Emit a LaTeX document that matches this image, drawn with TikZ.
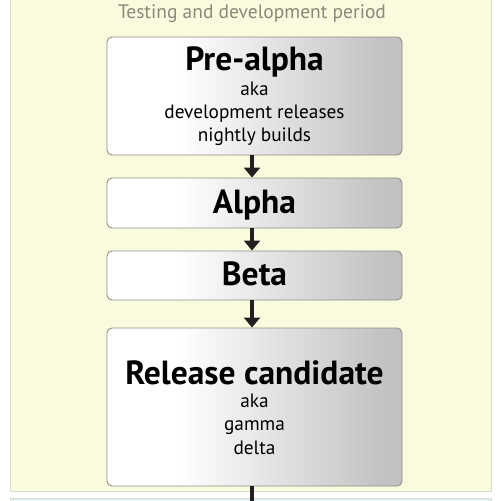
\documentclass[tikz,border=0pt]{standalone}
\usepackage{fontspec}
\setmainfont{PT Sans}
\usetikzlibrary{arrows.meta}
\definecolor{panelyellow}{HTML}{FAFADF}
\definecolor{panelline}{HTML}{DADACB}
\definecolor{panelcyan}{HTML}{E2F3F7}
\definecolor{boxline}{HTML}{8E8E86}
\definecolor{headgray}{HTML}{8A8A7C}
\definecolor{arrowblack}{HTML}{231F20}
\definecolor{shadeend}{HTML}{C2C2C2}
\pgfdeclarehorizontalshading{boxshade}{100bp}{color(0bp)=(white); color(25bp)=(white); color(37bp)=(white); color(72bp)=(shadeend); color(75bp)=(shadeend); color(100bp)=(shadeend)}
\begin{document}
\begin{tikzpicture}[x=1pt,y=-1pt,
  stagebox/.style={draw=boxline, line width=0.9pt, rounded corners=5pt, shading=boxshade, minimum width=295pt, inner sep=0pt},
  titletext/.style={font=\fontsize{33.5}{33.5}\selectfont\bfseries, anchor=base, inner sep=0pt},
  subtext/.style={font=\fontsize{19.3}{19.3}\selectfont, anchor=base, inner sep=0pt},
  flow/.style={arrowblack, line width=4pt, -{Triangle[width=16pt,length=10pt]}}]
\useasboundingbox (0,0) rectangle (500,501);
% panels
\fill[white] (0,0) rectangle (500,501);
\draw[panelline, fill=panelyellow, line width=0.8pt] (10,-5) rectangle (491,491);
\draw[panelline, fill=panelcyan, line width=0.8pt] (10,498) rectangle (491,510);
\node[font=\fontsize{19.5}{19.5}\selectfont, text=headgray, anchor=base, inner sep=0pt] (head) at (252,18.5) {Testing and development period};
% boxes
\node[stagebox, minimum height=118pt] (pre) at (254.5,96) {};
\node[stagebox, minimum height=50pt] (alpha) at (254.5,203) {};
\node[stagebox, minimum height=49pt] (beta) at (254.5,275.5) {};
\node[stagebox, minimum height=158pt] (rc) at (254.5,407) {};
% texts
\node[titletext] (pret) at (254.5,70.5) {Pre-alpha};
\node[subtext] (pre1) at (254.5,95) {aka};
\node[subtext] (pre2) at (254.5,118.5) {development releases};
\node[subtext] (pre3) at (254.5,141.5) {nightly builds};
\node[titletext] (alphat) at (254.5,213.5) {Alpha};
\node[titletext] (betat) at (254.5,285.5) {Beta};
\node[titletext] (rct) at (254.5,384) {Release candidate};
\node[subtext] (rc1) at (254.5,407) {aka};
\node[subtext] (rc2) at (254.5,430.5) {gamma};
\node[subtext] (rc3) at (254.5,454.5) {delta};
% connectors
\coordinate (out) at (252,515);
\draw[flow] ([xshift=-2.5pt]pre.south) -- ([xshift=-2.5pt]alpha.north);
\draw[flow] ([xshift=-2.5pt]alpha.south) -- ([xshift=-2.5pt]beta.north);
\draw[flow] ([xshift=-2.5pt]beta.south) -- ([xshift=-2.5pt]rc.north);
\draw[arrowblack, line width=4pt] ([xshift=-2.5pt]rc.south) -- (out);
\end{tikzpicture}
\end{document}
